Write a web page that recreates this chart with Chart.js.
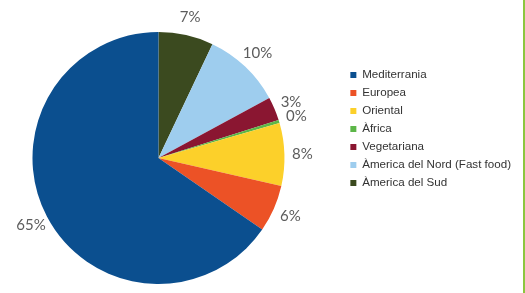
<!DOCTYPE html>
<html>
<head>
<meta charset="utf-8">
<script src="https://cdn.jsdelivr.net/npm/chart.js@4/dist/chart.umd.min.js"></script>
<style>
  html,body{margin:0;padding:0;background:#fff;}
  #wrap{position:relative;width:525px;height:293px;}
  #edge{position:absolute;left:523px;top:0;width:2px;height:293px;background:#8cc63f;}
</style>
</head>
<body>
<div id="wrap">
  <canvas id="chartDieta" width="525" height="293"></canvas>
  <div id="edge"></div>
</div>
<script>
// categories as in the legend (top to bottom)
const categories = ['Mediterrania','Europea','Oriental','Àfrica','Vegetariana','Àmerica del Nord (Fast food)','Àmerica del Sud'];
const percents = [65, 6, 8, 0.4, 3, 10, 7];
const colors = ['#0b4f8f','#ec5226','#fcd02a','#5cb648','#8a1631','#9ecdee','#3b4a1f'];

// slices go counter-clockwise from the top in the original, so draw reversed
const labelsDraw = categories.slice().reverse();
const dataDraw = percents.slice().reverse();
const colorsDraw = colors.slice().reverse();

const outsideLabels = {
  id:'outsideLabels',
  afterDatasetsDraw(chart){
    const {ctx} = chart;
    const meta = chart.getDatasetMeta(0);
    ctx.save();
    ctx.font = '15px Lato';
    ctx.fillStyle = '#5c5c5c';
    ctx.textAlign = 'center';
    ctx.textBaseline = 'middle';
    meta.data.forEach((arc, i)=>{
      const mid = (arc.startAngle + arc.endAngle)/2;
      const d = arc.outerRadius + 18;
      const x = arc.x + Math.cos(mid)*d;
      const y = arc.y + Math.sin(mid)*d;
      ctx.fillText(Math.round(dataDraw[i]) + '%', x, y);
    });
    ctx.restore();
  }
};

// push the legend a bit away from the pie
const legendGap = {
  id:'legendGap',
  afterLayout(chart){
    if(!chart.legend) return;
    chart.legend.left += 27;
    chart.legend.right += 27;
  }
};

new Chart(document.getElementById('chartDieta'), {
  type:'pie',
  data:{
    labels: labelsDraw,
    datasets:[{ data: dataDraw, backgroundColor: colorsDraw, borderWidth: 0 }]
  },
  options:{
    responsive:false,
    animation:false,
    layout:{ padding:{ left:0, top:32, bottom:9, right:31 } },
    plugins:{
      tooltip:{ enabled:false },
      legend:{
        position:'right',
        align:'start',
        reverse:true,
        title:{ display:true, text:'', font:{ size:10 }, padding:{ top:18.8, bottom:0 } },
        labels:{
          boxWidth:6, boxHeight:6, padding:6.4,
          color:'#333',
          font:{ family:'"Liberation Sans", Arial', size:11.6 }
        }
      }
    }
  },
  plugins:[outsideLabels, legendGap]
});
</script>
</body>
</html>
